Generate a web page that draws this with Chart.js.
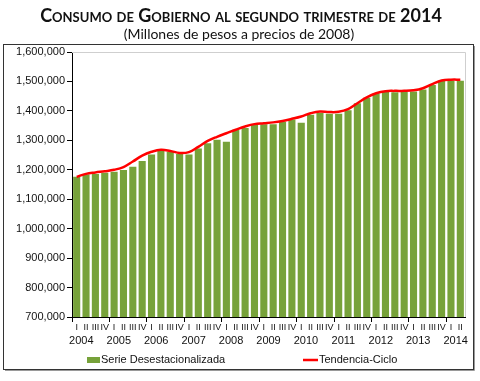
<!DOCTYPE html>
<html>
<head>
<meta charset="utf-8">
<script src="https://cdn.jsdelivr.net/npm/chart.js@4.4.1/dist/chart.umd.min.js"></script>
<style>
  html, body { margin: 0; padding: 0; background: #fff; }
  #wrap { width: 480px; height: 381px; position: relative; }
</style>
</head>
<body>
<div id="wrap"><canvas id="c" width="480" height="381"></canvas></div>
<script>
// ---- Data ----
const years = ["2004","2005","2006","2007","2008","2009","2010","2011","2012","2013","2014"];
const quarterNames = ["I","II","III","IV"];
const categories = [];
years.forEach(function (y) {
  quarterNames.forEach(function (q) {
    if (!(y === "2014" && (q === "III" || q === "IV"))) categories.push(q);
  });
});
const serieDesestacionalizada = [
  1176000, 1184000, 1186000, 1190000,
  1193000, 1199000, 1210000, 1230000,
  1252000, 1265000, 1261000, 1254000,
  1252000, 1272000, 1290000, 1302000,
  1295000, 1336000, 1342000, 1352000,
  1355000, 1355000, 1363000, 1371000,
  1360000, 1387000, 1394000, 1390000,
  1390000, 1402000, 1426000, 1445000,
  1459000, 1466000, 1463000, 1465000,
  1466000, 1473000, 1488000, 1502000,
  1503000, 1502000
];
const tendenciaCiclo = [
  1176000, 1186000, 1191000, 1195000,
  1200000, 1209000, 1228000, 1248000,
  1261000, 1268000, 1264000, 1257000,
  1260000, 1278000, 1298000, 1312000,
  1324000, 1336000, 1347000, 1355000,
  1358000, 1361000, 1366000, 1373000,
  1381000, 1392000, 1398000, 1396000,
  1397000, 1406000, 1426000, 1446000,
  1460000, 1467000, 1468000, 1468000,
  1470000, 1477000, 1491000, 1503000,
  1506000, 1506000
];
const yTicks = [700000, 800000, 900000, 1000000, 1100000, 1200000, 1300000, 1400000, 1500000, 1600000];

const titleText = "Consumo de Gobierno al segundo trimestre de 2014";
const subtitleText = "(Millones de pesos a precios de 2008)";

const GREEN = "#77A23A";
const RED = "#FF0000";
const AXIS = "#000000";
const TXT = "#111111";
const TICK_FONT = "'Liberation Sans', Arial, sans-serif";
const TITLE_FONT = "Lato, 'Open Sans', sans-serif";

// ---- Plugins ----
const framePlugin = {
  id: "frame",
  beforeDraw(chart) {
    const ctx = chart.ctx;
    ctx.save();
    ctx.strokeStyle = "#9a9a9a";
    ctx.lineWidth = 1;
    ctx.beginPath();
    ctx.moveTo(474.5, 46);
    ctx.lineTo(474.5, 370.5);
    ctx.lineTo(5, 370.5);
    ctx.stroke();
    ctx.strokeStyle = "#333333";
    ctx.strokeRect(3.5, 44.5, 470, 325);

    // title (small caps) and subtitle
    ctx.fillStyle = "#111";
    ctx.textAlign = "center";
    ctx.textBaseline = "alphabetic";
    ctx.font = "small-caps bold 18px " + TITLE_FONT;
    try { ctx.fontVariantCaps = "small-caps"; } catch (e) {}
    ctx.fillText(titleText, 241, 22);
    try { ctx.fontVariantCaps = "normal"; } catch (e) {}
    ctx.font = "14px " + TITLE_FONT;
    ctx.fillText(subtitleText, 239, 39);
    ctx.restore();
  },
  beforeDatasetsDraw(chart) {
    const a = chart.chartArea;
    const ctx = chart.ctx;
    ctx.save();
    ctx.strokeStyle = "#cfcfcf";
    ctx.lineWidth = 1;
    ctx.beginPath();
    ctx.moveTo(a.left, Math.round(a.top) + 0.5);
    ctx.lineTo(Math.round(a.right) + 0.5, Math.round(a.top) + 0.5);
    ctx.lineTo(Math.round(a.right) + 0.5, a.bottom);
    ctx.stroke();
    ctx.restore();
  },
  afterDraw(chart) {
    const ctx = chart.ctx;
    const ds = chart.data.datasets;
    ctx.save();
    ctx.font = "11px " + TICK_FONT;
    ctx.textBaseline = "middle";
    const ly = 360;
    ctx.fillStyle = ds[0].backgroundColor;
    ctx.fillRect(87, ly - 3, 13, 6);
    ctx.fillStyle = TXT;
    ctx.textAlign = "left";
    ctx.fillText(ds[0].label, 101, ly);
    ctx.strokeStyle = ds[1].borderColor;
    ctx.lineWidth = 2.5;
    ctx.beginPath();
    ctx.moveTo(303, ly);
    ctx.lineTo(318, ly);
    ctx.stroke();
    ctx.fillText(ds[1].label, 319, ly);
    ctx.restore();
  }
};

const ctx = document.getElementById("c").getContext("2d");
new Chart(ctx, {
  data: {
    labels: categories,
    datasets: [
      {
        type: "bar",
        label: "Serie Desestacionalizada",
        data: serieDesestacionalizada,
        backgroundColor: GREEN,
        borderWidth: 0,
        barPercentage: 0.76,
        categoryPercentage: 1.0,
        order: 2
      },
      {
        type: "line",
        label: "Tendencia-Ciclo",
        data: tendenciaCiclo,
        borderColor: RED,
        backgroundColor: RED,
        borderWidth: 2.5,
        pointRadius: 0,
        tension: 0.4,
        fill: false,
        order: 1
      }
    ]
  },
  options: {
    responsive: false,
    animation: false,
    devicePixelRatio: 1,
    layout: { padding: { top: 52, left: 12, right: 15, bottom: 36 } },
    plugins: {
      legend: { display: false },
      tooltip: { enabled: false },
      title: { display: false },
      subtitle: { display: false }
    },
    scales: {
      x: {
        type: "category",
        position: "bottom",
        offset: true,
        grid: {
          display: true,
          offset: true,
          drawOnChartArea: false,
          drawTicks: true,
          tickLength: 5,
          color: function (c) { return (c.index % 4 === 0) ? AXIS : "rgba(0,0,0,0)"; }
        },
        border: { display: true, color: AXIS, width: 1 },
        ticks: {
          autoSkip: false,
          maxRotation: 0,
          minRotation: 0,
          padding: 0,
          color: TXT,
          font: { family: TICK_FONT, size: 9 }
        },
        afterFit: function (s) { s.height = 14; }
      },
      x2: {
        type: "linear",
        position: "bottom",
        min: 0,
        max: categories.length,
        grid: { display: false, drawTicks: false },
        border: { display: false },
        afterBuildTicks: function (s) {
          s.ticks = years.map(function (y, i) { return { value: 4 * i + 1 }; });
        },
        ticks: {
          autoSkip: false,
          maxRotation: 0,
          minRotation: 0,
          padding: 3,
          color: TXT,
          font: { family: TICK_FONT, size: 11 },
          callback: function (v, i) { return years[i]; }
        },
        afterFit: function (s) { s.height = 14; }
      },
      y: {
        type: "linear",
        min: 700000,
        max: 1600000,
        afterBuildTicks: function (s) {
          s.ticks = yTicks.map(function (v) { return { value: v }; });
        },
        grid: { display: true, drawOnChartArea: false, drawTicks: true, tickLength: 5, color: AXIS },
        border: { display: true, color: AXIS, width: 1 },
        ticks: {
          padding: 2,
          color: TXT,
          font: { family: TICK_FONT, size: 11 },
          callback: function (v) { return Number(v).toLocaleString("en-US"); }
        },
        afterFit: function (s) { s.width = 60; }
      }
    }
  },
  plugins: [framePlugin]
});
</script>
</body>
</html>
